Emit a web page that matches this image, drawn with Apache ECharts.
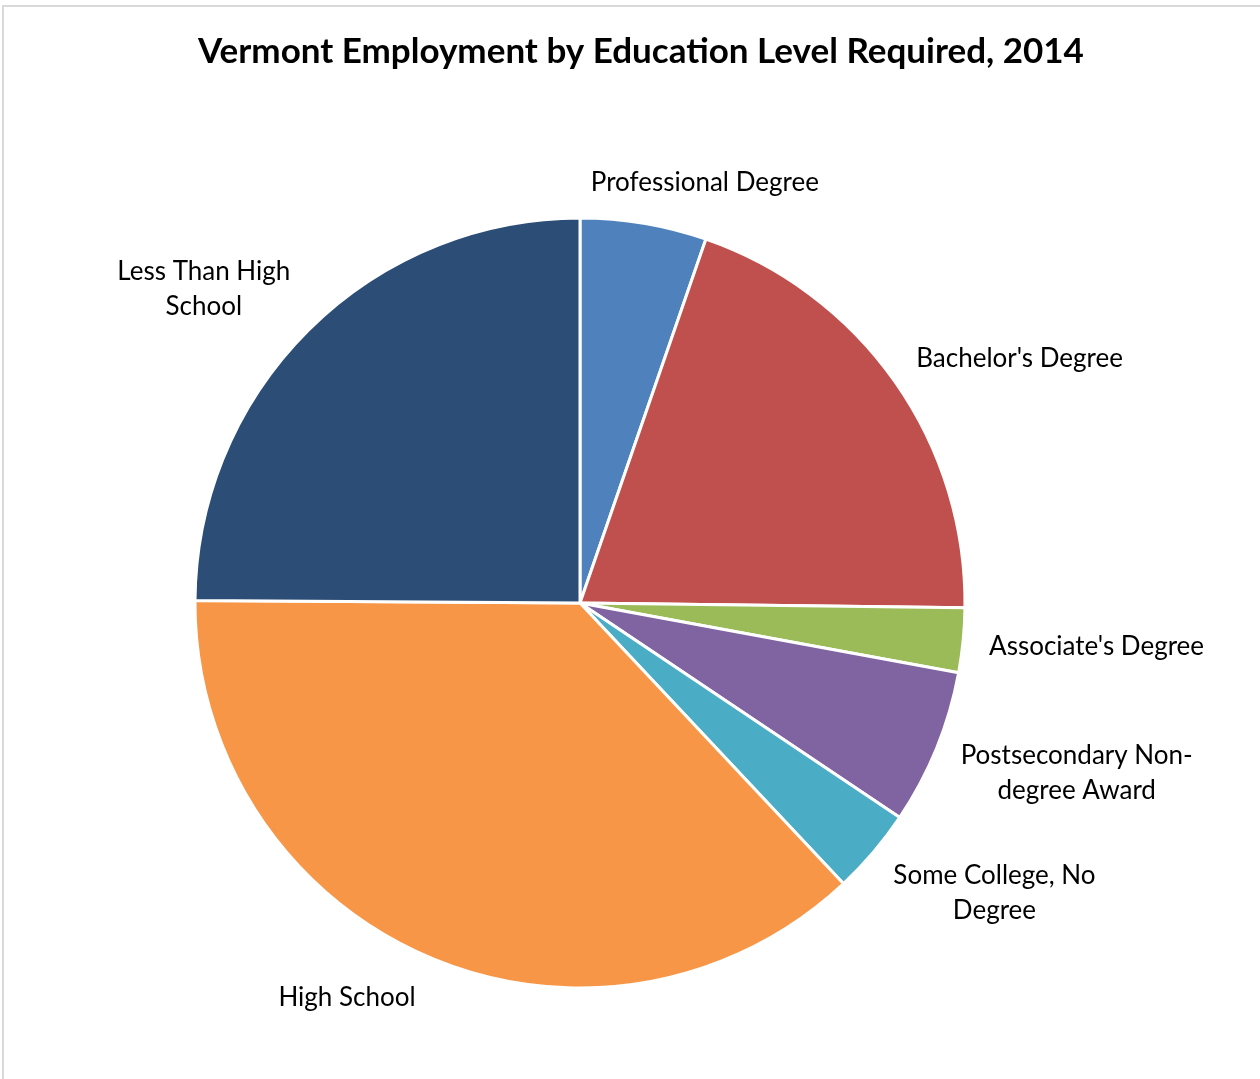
<!DOCTYPE html>
<html>
<head>
<meta charset="utf-8">
<title>Vermont Employment by Education Level Required, 2014</title>
<script src="https://cdn.jsdelivr.net/npm/echarts@6/dist/echarts.min.js"></script>
<style>
    html, body { margin: 0; padding: 0; background: #fff; }
    #main { width: 1260px; height: 1079px; }
</style>
</head>
<body>
<div id="main"></div>
<script>
    // shares (percent of employment)
    var categories = ['Professional Degree', "Bachelor's Degree", "Associate's Degree",
        'Postsecondary Non-degree Award', 'Some College, No Degree', 'High School', 'Less Than High School'];
    var labelText = ['Professional Degree', "Bachelor's Degree", "Associate's Degree",
        'Postsecondary Non-\ndegree Award', 'Some College, No\nDegree', 'High School', 'Less Than High\nSchool'];
    var values = [5.3, 19.9, 2.7, 6.5, 3.6, 37.1, 24.9];
    var colors = ['#4F81BD', '#C0504D', '#9BBB59', '#8064A2', '#4BACC6', '#F79646', '#2C4D75'];

    var cx = 580, cy = 603, radius = 385;
    var total = values.reduce(function(a, b) { return a + b; }, 0);

    // mid angle of each slice, clockwise from 12 o'clock
    var midAngles = [];
    var acc = 0;
    values.forEach(function(v) {
        midAngles.push((acc + v / 2) / total * Math.PI * 2);
        acc += v;
    });

    function clamp(v) {
        return Math.max(-1, Math.min(1, v));
    }

    var chart = echarts.init(document.getElementById('main'));

    var option = {
        backgroundColor: '#fff',
        animation: false,
        title: {
            text: 'Vermont Employment by Education Level Required, 2014',
            left: 636,
            top: 29,
            textAlign: 'center',
            textStyle: {
                fontFamily: 'Lato',
                fontWeight: 'bold',
                fontSize: 35,
                color: '#000'
            }
        },
        graphic: [{
            type: 'rect',
            shape: { x: 3, y: 6, width: 1300, height: 1120 },
            style: { fill: 'none', stroke: '#d9d9d9', lineWidth: 2 },
            silent: true
        }],
        series: [{
            type: 'pie',
            center: [cx, cy],
            radius: radius,
            startAngle: 90,
            clockwise: true,
            avoidLabelOverlap: false,
            itemStyle: {
                borderColor: '#fff',
                borderWidth: 3
            },
            label: {
                show: true,
                position: 'outside',
                fontFamily: 'Lato',
                fontSize: 26,
                lineHeight: 35,
                color: '#000',
                formatter: function(p) {
                    return labelText[p.dataIndex];
                }
            },
            labelLine: { show: false },
            labelLayout: function(p) {
                var a = midAngles[p.dataIndex];
                var r = radius + 26;
                var ax = cx + r * Math.sin(a);
                var ay = cy - r * Math.cos(a);
                var w = p.labelRect.width, h = p.labelRect.height;
                return {
                    x: ax + w / 2 * clamp(3 * Math.sin(a)),
                    y: ay - h / 2 * Math.cos(a) + 2,
                    align: 'center',
                    verticalAlign: 'middle'
                };
            },
            data: categories.map(function(name, i) {
                return {
                    name: name,
                    value: values[i],
                    itemStyle: { color: colors[i] }
                };
            })
        }]
    };

    chart.setOption(option);
</script>
</body>
</html>
